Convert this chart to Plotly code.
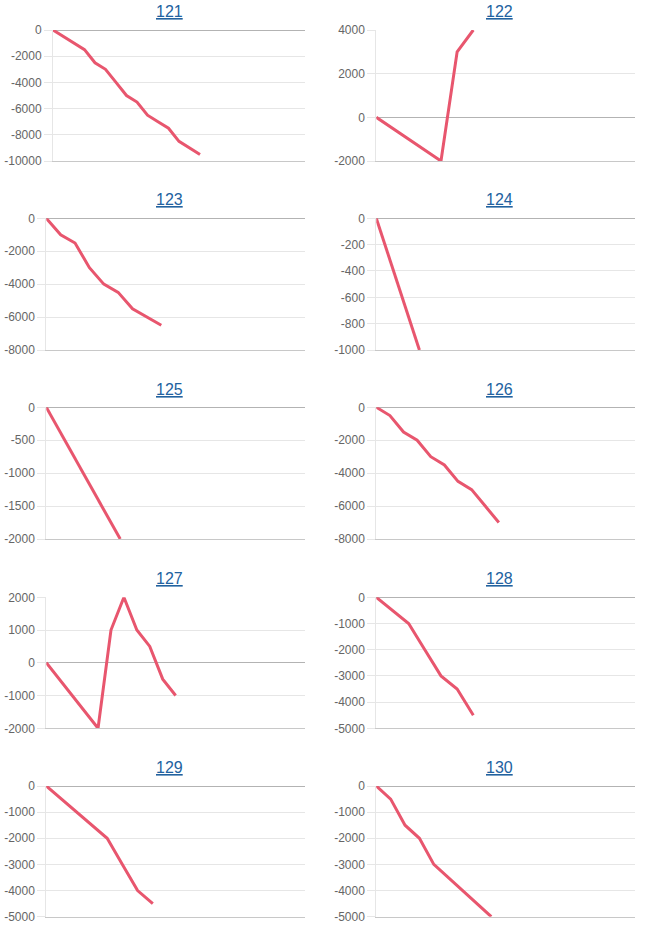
import plotly.graph_objects as go

# ---- data ----
titles = ["121", "122", "123", "124", "125", "126", "127", "128", "129", "130"]
s121 = [0, -500, -1000, -1500, -2500, -3000, -4000, -5000, -5500, -6500, -7000, -7500, -8500, -9000, -9500]
s122 = [0, -500, -1000, -1500, -2000, 3000, 4000]
s123 = [0, -1000, -1500, -3000, -4000, -4500, -5500, -6000, -6500]
s124 = [0, -500, -1000]
s125 = [0, -500, -1000, -1500, -2000]
s126 = [0, -500, -1500, -2000, -3000, -3500, -4500, -5000, -6000, -7000]
s127 = [0, -500, -1000, -1500, -2000, 1000, 2000, 1000, 500, -500, -1000]
s128 = [0, -500, -1000, -2000, -3000, -3500, -4500]
s129 = [0, -500, -1000, -1500, -2000, -3000, -4000, -4500]
s130 = [0, -500, -1500, -2000, -3000, -3500, -4000, -4500, -5000]
series = [s121, s122, s123, s124, s125, s126, s127, s128, s129, s130]
extra_categories = 10  # empty trailing categories on each x axis

y_ranges = [[-10000, 0], [-2000, 4000], [-8000, 0], [-1000, 0], [-2000, 0],
            [-8000, 0], [-2000, 2000], [-5000, 0], [-5000, 0], [-5000, 0]]
y_dticks = [2000, 2000, 2000, 200, 500, 2000, 1000, 1000, 1000, 1000]

# ---- layout geometry (pixels) ----
W, H = 653, 927
left_col = (46.3, 305.0)
left_col_wide = (53.0, 305.0)
right_col = (376.3, 635.0)
rows = [(30, 161), (218.3, 350), (407.3, 539), (597.3, 728.3), (786, 916.7)]
title_y = [12, 200, 389, 578.3, 767.7]
title_x = [169.3, 499.3]

LINE = "#e8566e"
GRID = "#e6e6e6"
TICKFONT = dict(family="Liberation Sans, Arial, sans-serif", size=12, color="#666666")

fig = go.Figure()
layout = dict(width=W, height=H, margin=dict(l=0, r=0, t=0, b=0, autoexpand=False),
              autosize=False, paper_bgcolor="white", plot_bgcolor="white", showlegend=False)
annotations = []

for i, vals in enumerate(series):
    r, c = divmod(i, 2)
    xs = list(range(len(vals)))
    if c == 0:
        xc = left_col_wide if i == 0 else left_col
    else:
        xc = right_col
    top, bot = rows[r]
    n = i + 1
    xa = "xaxis" if n == 1 else f"xaxis{n}"
    ya = "yaxis" if n == 1 else f"yaxis{n}"
    xref = "x" if n == 1 else f"x{n}"
    yref = "y" if n == 1 else f"y{n}"
    lo, hi = y_ranges[i]
    tv = list(range(lo, hi + 1, y_dticks[i]))
    fig.add_trace(go.Scatter(x=xs, y=vals, mode="lines", xaxis=xref, yaxis=yref,
                             line=dict(color=LINE, width=3), hoverinfo="skip"))
    layout[xa] = dict(domain=[xc[0] / W, xc[1] / W], anchor=yref,
                      range=[0, len(vals) - 1 + extra_categories], automargin=False,
                      showgrid=False, zeroline=False, showticklabels=False, ticks="",
                      showline=True, linecolor="#c8c8c8", linewidth=1, fixedrange=True)
    layout[ya] = dict(domain=[1 - bot / H, 1 - top / H], anchor=xref,
                      range=[lo, hi], tickmode="array", tickvals=tv,
                      ticktext=[str(v) for v in tv], automargin=False,
                      showgrid=True, gridcolor=GRID, gridwidth=1,
                      zeroline=True, zerolinecolor="#b3b3b3", zerolinewidth=1,
                      showline=True, linecolor=GRID, linewidth=1,
                      ticks="outside", ticklen=8, tickcolor=GRID, tickwidth=1,
                      tickfont=TICKFONT, fixedrange=True)
    annotations.append(dict(text=f"<u>{titles[i]}</u>", xref="paper", yref="paper",
                            x=title_x[c] / W, y=1 - title_y[r] / H,
                            xanchor="center", yanchor="middle", showarrow=False,
                            font=dict(family="Liberation Sans, Arial, sans-serif",
                                      size=16, color="#22629f")))

layout["annotations"] = annotations
fig.update_layout(**layout)
fig.write_html("out.html")
